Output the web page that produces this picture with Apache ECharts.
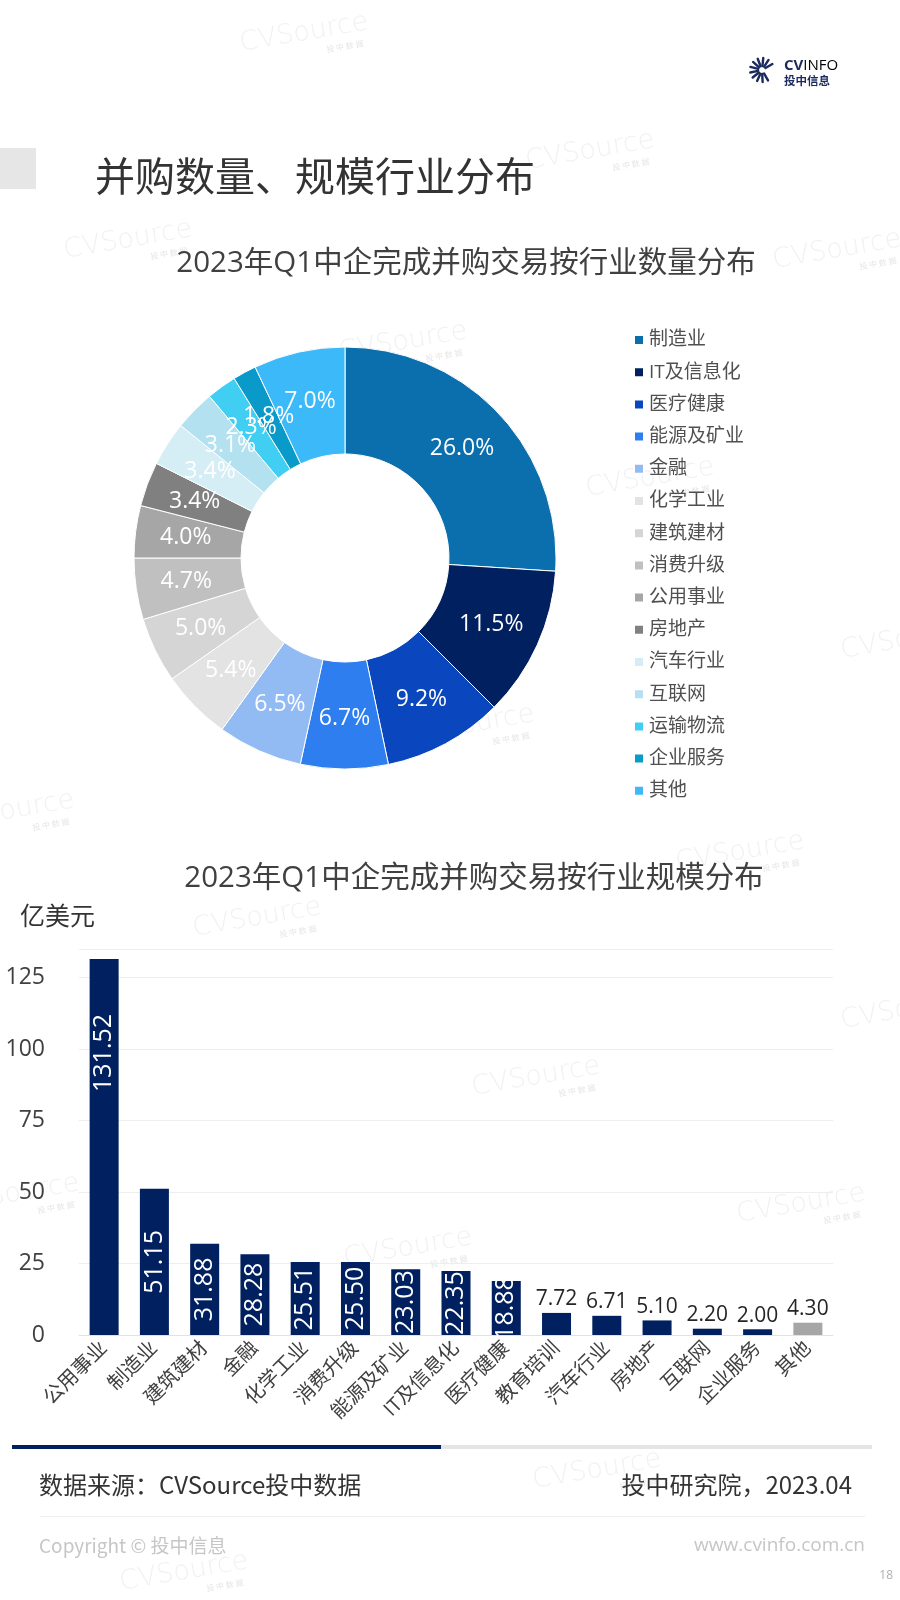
<!DOCTYPE html>
<html><head><meta charset="utf-8">
<script src="https://cdn.jsdelivr.net/npm/echarts@6/dist/echarts.min.js"></script>
<style>html,body{margin:0;padding:0;background:#fff}#c{width:900px;height:1600px}</style>
</head><body><div id="c"></div>
<script>
// ---- data ----
const pieCategories = ['制造业','IT及信息化','医疗健康','能源及矿业','金融','化学工业','建筑建材','消费升级','公用事业','房地产','汽车行业','互联网','运输物流','企业服务','其他'];
const pieValues = [26.0, 11.5, 9.2, 6.7, 6.5, 5.4, 5.0, 4.7, 4.0, 3.4, 3.4, 3.1, 2.3, 1.8, 7.0];
const pieColors = ['#0B6FAE','#002060','#0A47BE','#2F7EF0','#93BBF3','#E3E3E3','#D5D5D5','#C0C0C0','#A6A6A6','#808080','#D5EDF5','#B3E1F0','#40CFF3','#0A9AC9','#3CB9F8'];

const barCategories = ['公用事业','制造业','建筑建材','金融','化学工业','消费升级','能源及矿业','IT及信息化','医疗健康','教育培训','汽车行业','房地产','互联网','企业服务','其他'];
const barValues = [131.52, 51.15, 31.88, 28.28, 25.51, 25.50, 23.03, 22.35, 18.88, 7.72, 6.71, 5.10, 2.20, 2.00, 4.30];
const yMin = 0, yMax = 135, yInterval = 25;

const FONT = '"Open Sans","Noto Sans CJK SC",sans-serif';

// ---- decorations ----
function watermark(x, y) {
  return {
    type: 'group', x: x, y: y, rotation: 0.17, z: 100, silent: true,
    children: [
      {type: 'text', style: {text: 'CVSource', x: 0, y: 0, align: 'center', verticalAlign: 'middle',
        font: '300 27px "DejaVu Sans",sans-serif', fill: 'rgba(160,160,160,0.15)'}},
      {type: 'text', style: {text: '投 中 数 据', x: 38, y: 20, align: 'center', verticalAlign: 'middle',
        font: '8px "Noto Sans CJK SC"', fill: 'rgba(160,160,160,0.28)'}}
    ]
  };
}
const wmPositions = [[304,33],[590,151],[128,240],[837,250],[403,342],[650,478],[10,811],[905,640],[740,852],[257,918],[536,1077],[905,1010],[15,1194],[801,1204],[408,1248],[597,1470],[184,1572],[470,725]];

const logoLines = [];
for (let i = 0; i < 11; i++) {
  const a = (60 + i * 27) * Math.PI / 180;
  logoLines.push({type: 'line', shape: {x1: 762 + Math.cos(a) * 4, y1: 70 + Math.sin(a) * 4, x2: 762 + Math.cos(a) * 12, y2: 70 + Math.sin(a) * 12},
    style: {stroke: '#1B2A5E', lineWidth: 2.4, lineCap: 'round'}});
}

// ---- bar data items ----
const barData = barValues.map((v, i) => {
  const item = {value: v, itemStyle: {color: i === barValues.length - 1 ? '#A6A6A6' : '#002060'}};
  if (v >= 15) {
    item.label = {show: true, position: 'inside', rotate: 90, color: '#fff', fontSize: 25, fontFamily: FONT};
    if (i === 0) {
      item.label.position = 'insideTop';
      item.label.align = 'right';
      item.label.verticalAlign = 'middle';
      item.label.distance = 55;
    }
  } else {
    item.label = {show: true, position: 'top', color: '#262626', fontSize: 21, distance: 3, fontFamily: FONT};
  }
  return item;
});

const chart = echarts.init(document.getElementById('c'), null, {renderer: 'canvas'});
chart.setOption({
  backgroundColor: '#ffffff',
  animation: false,
  textStyle: {fontFamily: FONT},
  title: [
    {text: '并购数量、规模行业分布', left: 90, top: 155, textStyle: {fontSize: 40, fontWeight: 'normal', color: '#333333', fontFamily: FONT}},
    {text: '2023年Q1中企完成并购交易按行业数量分布', left: 461, top: 244, textAlign: 'center', textStyle: {fontSize: 29.5, fontWeight: 'normal', color: '#404040', fontFamily: FONT}},
    {text: '2023年Q1中企完成并购交易按行业规模分布', left: 469, top: 859, textAlign: 'center', textStyle: {fontSize: 29.5, fontWeight: 'normal', color: '#404040', fontFamily: FONT}},
    {text: '亿美元', left: 15, top: 900, textStyle: {fontSize: 25, fontWeight: 'normal', color: '#333333', fontFamily: FONT}}
  ],
  legend: {
    orient: 'vertical', left: 628, top: 325,
    itemWidth: 10, itemHeight: 10, itemGap: 12.2, icon: 'rect',
    data: pieCategories,
    textStyle: {fontSize: 19, lineHeight: 20, color: '#505050', fontFamily: FONT},
    selectedMode: false
  },
  grid: {left: 79, right: 67, top: 949, bottom: 265, containLabel: false},
  xAxis: {
    type: 'category', data: barCategories,
    axisLine: {show: true, lineStyle: {color: '#e2e2e2'}},
    axisTick: {show: false},
    axisLabel: {interval: 0, rotate: 45, fontSize: 20, color: '#404040', margin: 10, fontFamily: FONT}
  },
  yAxis: {
    type: 'value', min: yMin, max: yMax, interval: yInterval,
    axisLine: {show: false}, axisTick: {show: false},
    splitLine: {lineStyle: {color: '#eeeeee'}},
    axisLabel: {fontSize: 23, color: '#404040', margin: 34, showMaxLabel: false, fontFamily: FONT}
  },
  series: [
    {
      type: 'pie', center: [345, 558], radius: [104, 211], startAngle: 90, clockwise: true,
      data: pieCategories.map((n, i) => ({name: n, value: pieValues[i], itemStyle: {color: pieColors[i]}})),
      itemStyle: {borderColor: '#ffffff', borderWidth: 1},
      label: {show: true, position: 'inside', color: '#ffffff', fontSize: 23, fontFamily: FONT,
        formatter: p => p.value.toFixed(1) + '%'},
      labelLine: {show: false},
      labelLayout: {hideOverlap: false},
      emphasis: {disabled: true}
    },
    {
      type: 'bar', data: barData, barWidth: 29,
      label: {formatter: p => p.value.toFixed(2)},
      emphasis: {disabled: true}
    }
  ],
  graphic: [
    {type: 'rect', shape: {x: 0, y: 148, width: 36, height: 41}, style: {fill: '#e6e6e6'}},
    // logo
    ...logoLines,
    {type: 'text', style: {text: '{a|CV}{b|INFO}', x: 784, y: 66, verticalAlign: 'middle',
      rich: {a: {fontSize: 15, fontWeight: 'bold', fontFamily: '"Open Sans",sans-serif', fill: '#1B2A5E', color: '#1B2A5E'},
             b: {fontSize: 15, fontFamily: '"Open Sans",sans-serif', color: '#1B2A5E'}}}},
    {type: 'text', style: {text: '投中信息', x: 784, y: 81, verticalAlign: 'middle', font: 'bold 11.5px "Noto Sans CJK SC"', fill: '#1B2A5E'}},
    // footer
    {type: 'rect', shape: {x: 12, y: 1445, width: 429, height: 4}, style: {fill: '#002060'}},
    {type: 'rect', shape: {x: 441, y: 1445, width: 431, height: 4}, style: {fill: '#e5e5e5'}},
    {type: 'text', style: {text: '数据来源：CVSource投中数据', x: 39, y: 1485, verticalAlign: 'middle', font: '24px "Noto Sans CJK SC"', fill: '#333333'}},
    {type: 'text', style: {text: '投中研究院，2023.04', x: 852, y: 1485, align: 'right', verticalAlign: 'middle', font: '24px "Noto Sans CJK SC"', fill: '#333333'}},
    {type: 'rect', shape: {x: 40, y: 1516, width: 825, height: 1}, style: {fill: '#eeeeee'}},
    {type: 'text', style: {text: 'Copyright © 投中信息', x: 39, y: 1546, verticalAlign: 'middle', font: '19px "Noto Sans CJK SC"', fill: '#c6c6c6'}},
    {type: 'text', style: {text: 'www.cvinfo.com.cn', x: 865, y: 1546, align: 'right', verticalAlign: 'middle', font: '19px "Open Sans",sans-serif', fill: '#c6c6c6'}},
    {type: 'text', style: {text: '18', x: 893, y: 1576, align: 'right', verticalAlign: 'middle', font: '12px "Open Sans",sans-serif', fill: '#b0b0b0'}},
    ...wmPositions.map(p => watermark(p[0], p[1]))
  ]
});
</script></body></html>
